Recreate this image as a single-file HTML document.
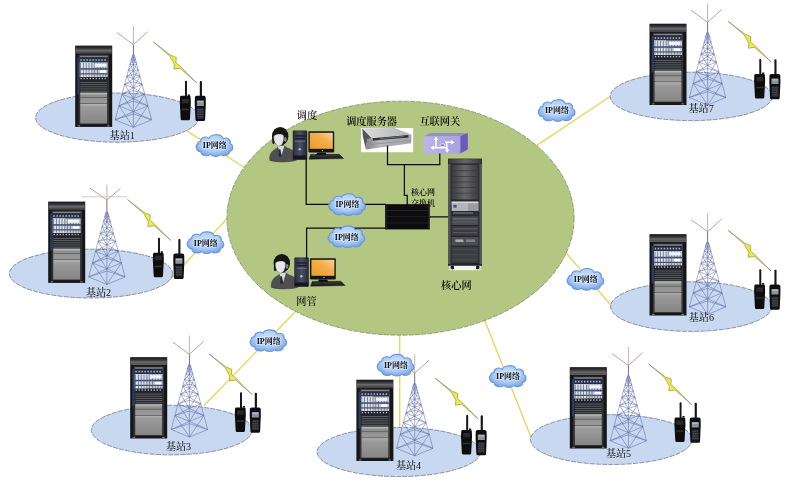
<!DOCTYPE html>
<html lang="zh"><head><meta charset="utf-8"><title>集群通信系统组网图</title>
<style>html,body{margin:0;padding:0;background:#fff;overflow:hidden}svg{display:block}</style></head><body>
<svg width="798" height="494" viewBox="0 0 798 494" font-family='"Liberation Serif","Noto Serif CJK SC",serif'>
<defs>
<filter id="soft" x="0" y="0" width="798" height="494" filterUnits="userSpaceOnUse"><feGaussianBlur stdDeviation="0.45"/></filter>
<linearGradient id="gHead" x1="0" y1="0" x2="0" y2="1"><stop offset="0" stop-color="#1c1c1e"/><stop offset=".35" stop-color="#3a3a3d"/><stop offset=".6" stop-color="#6a6a6e"/><stop offset=".9" stop-color="#4a4a4e"/><stop offset="1" stop-color="#88888c"/></linearGradient>
<linearGradient id="gBox" x1="0" y1="0" x2="0" y2="1"><stop offset="0" stop-color="#c9c9c9"/><stop offset=".25" stop-color="#8e8e8e"/><stop offset="1" stop-color="#9a9a9a"/></linearGradient>
<linearGradient id="gPanel" x1="0" y1="0" x2="0" y2="1"><stop offset="0" stop-color="#b4b4b4"/><stop offset=".15" stop-color="#9b9b9b"/><stop offset="1" stop-color="#858585"/></linearGradient>
<radialGradient id="gCloud" cx=".5" cy=".4" r=".65"><stop offset="0" stop-color="#d2e6fd"/><stop offset=".55" stop-color="#aecef6"/><stop offset="1" stop-color="#6f9ee2"/></radialGradient>
<linearGradient id="gScr" x1="0" y1="1" x2="1" y2="0"><stop offset="0" stop-color="#ee9a22"/><stop offset=".6" stop-color="#f3ae4c"/><stop offset="1" stop-color="#f8d4a0"/></linearGradient>
<linearGradient id="gPc" x1="0" y1="0" x2="1" y2="0"><stop offset="0" stop-color="#2c2f3e"/><stop offset=".5" stop-color="#4a4f66"/><stop offset="1" stop-color="#262836"/></linearGradient>
<linearGradient id="gCore" x1="0" y1="0" x2="1" y2="0"><stop offset="0" stop-color="#3a3a3d"/><stop offset=".5" stop-color="#66666a"/><stop offset="1" stop-color="#3a3a3d"/></linearGradient>
<linearGradient id="gGw" x1="0" y1="0" x2="1" y2="0"><stop offset="0" stop-color="#b9b4e9"/><stop offset="1" stop-color="#a9a2e0"/></linearGradient>
<linearGradient id="gSilver" x1="0" y1="0" x2="1" y2="0"><stop offset="0" stop-color="#dcdcde"/><stop offset="1" stop-color="#b2b2b6"/></linearGradient>
<linearGradient id="gSrvF" x1="0" y1="0" x2="1" y2="0"><stop offset="0" stop-color="#85868a"/><stop offset=".3" stop-color="#b4b5b9"/><stop offset="1" stop-color="#a2a3a7"/></linearGradient>

<g id="rack">
<rect x="0" y="0" width="37" height="81.3" fill="#161618"/>
<rect x="0.4" y="0.5" width="36.2" height="7.2" fill="url(#gHead)"/>
<rect x="3.4" y="8.4" width="30.2" height="70.6" fill="#202124"/>
<rect x="4.4" y="10.0" width="28.2" height="1.6" fill="#828284"/>
<rect x="4.4" y="12.8" width="28.2" height="3.6" fill="#2c3550"/>
<rect x="5.2" y="13.6" width="1.4" height="1.6" fill="#9db6dc"/>
<rect x="8.2" y="13.6" width="1.4" height="1.6" fill="#9db6dc"/>
<rect x="11.2" y="13.6" width="1.4" height="1.6" fill="#9db6dc"/>
<rect x="14.2" y="13.6" width="1.4" height="1.6" fill="#9db6dc"/>
<rect x="17.2" y="13.6" width="1.4" height="1.6" fill="#9db6dc"/>
<rect x="20.2" y="13.6" width="1.4" height="1.6" fill="#9db6dc"/>
<rect x="23.2" y="13.6" width="1.4" height="1.6" fill="#9db6dc"/>
<rect x="26.2" y="13.6" width="1.4" height="1.6" fill="#9db6dc"/>
<rect x="29.2" y="13.6" width="1.4" height="1.6" fill="#9db6dc"/>
<rect x="4.4" y="16.8" width="28.2" height="14.6" fill="#c2c7d2"/>
<rect x="4.4" y="16.8" width="12.5" height="14.6" fill="#d9dde6"/>
<rect x="5.0" y="17.2" width="0.8" height="13.8" fill="#6a7486"/>
<rect x="7.8" y="17.2" width="0.8" height="13.8" fill="#6a7486"/>
<rect x="10.6" y="17.2" width="0.8" height="13.8" fill="#6a7486"/>
<rect x="13.4" y="17.2" width="0.8" height="13.8" fill="#6a7486"/>
<rect x="16.2" y="17.2" width="0.8" height="13.8" fill="#6a7486"/>
<rect x="19.0" y="17.2" width="0.8" height="13.8" fill="#6a7486"/>
<rect x="21.8" y="17.2" width="0.8" height="13.8" fill="#6a7486"/>
<rect x="24.6" y="17.2" width="0.8" height="13.8" fill="#6a7486"/>
<rect x="27.4" y="17.2" width="0.8" height="13.8" fill="#6a7486"/>
<rect x="30.2" y="17.2" width="0.8" height="13.8" fill="#6a7486"/>
<rect x="4.4" y="22.6" width="28.2" height="1.5" fill="#3d4c80"/>
<rect x="19.5" y="18.0" width="11.6" height="3.2" fill="#f2f3f6"/>
<rect x="4.4" y="27.6" width="28.2" height="1.2" fill="#4a5268"/>
<rect x="24.5" y="24.6" width="6.6" height="2.6" fill="#ffffff"/>
<rect x="4.4" y="31.4" width="28.2" height="3.2" fill="#20232c"/>
<rect x="5.4" y="32.2" width="1.3" height="1.4" fill="#b9c1cf"/>
<rect x="8.4" y="32.2" width="1.3" height="1.4" fill="#b9c1cf"/>
<rect x="11.4" y="32.2" width="1.3" height="1.4" fill="#b9c1cf"/>
<rect x="14.4" y="32.2" width="1.3" height="1.4" fill="#b9c1cf"/>
<rect x="17.4" y="32.2" width="1.3" height="1.4" fill="#b9c1cf"/>
<rect x="20.4" y="32.2" width="1.3" height="1.4" fill="#b9c1cf"/>
<rect x="23.4" y="32.2" width="1.3" height="1.4" fill="#b9c1cf"/>
<rect x="26.4" y="32.2" width="1.3" height="1.4" fill="#b9c1cf"/>
<rect x="29.4" y="32.2" width="1.3" height="1.4" fill="#b9c1cf"/>
<rect x="4.4" y="34.6" width="28.2" height="12.4" fill="#26272b"/>
<rect x="5.2" y="36.4" width="26.6" height="0.8" fill="#686a70"/>
<rect x="5.2" y="38.6" width="26.6" height="0.8" fill="#686a70"/>
<rect x="5.2" y="40.8" width="26.6" height="0.8" fill="#686a70"/>
<rect x="5.2" y="43.0" width="26.6" height="0.8" fill="#686a70"/>
<rect x="5.2" y="45.2" width="26.6" height="0.8" fill="#686a70"/>
<rect x="5.0" y="47.0" width="27.0" height="11.0" fill="url(#gBox)"/>
<rect x="5.0" y="51.6" width="27.0" height="0.8" fill="#5c5c5c"/>
<rect x="5.0" y="58.4" width="27.0" height="19.6" fill="url(#gPanel)"/>
<rect x="3.4" y="9.6" width="1.0" height="69.4" fill="#3a3c44"/>
<rect x="32.6" y="9.6" width="1.0" height="69.4" fill="#3a3c44"/>
<rect x="2.1" y="12" width="1.5" height="37" fill="#3456a8" opacity=".6"/>
<rect x="2.5" y="79.6" width="2.5" height="1.2" fill="#777"/><rect x="32" y="79.6" width="2.5" height="1.2" fill="#777"/>
</g>
<g id="radio1" transform="scale(1.08 1.03)">
<rect x="5.0" y="-14.6" width="1.8" height="15.6" rx=".8" fill="#121214"/>
<path d="M0.4,1.4 Q0.4,0 1.8,0 L8.8,0 Q10.2,0 10.2,1.4 L10.4,7 L9.6,22.6 Q9.5,23.8 8.4,23.8 L2.2,23.8 Q1.1,23.8 1,22.6 L0.2,7 Z" fill="#0e0e10"/>
<rect x="2.2" y="3.0" width="6.2" height="4.2" fill="#2a2a2e"/>
<rect x="2.0" y="12.6" width="6.6" height="1.4" fill="#303034"/>
<rect x="7.6" y="-1.4" width="2.0" height="1.6" fill="#1c1c1e"/>
</g>
<g id="radio2" transform="scale(1.18 1.02)">
<rect x="4.5" y="-14.4" width="1.8" height="15.4" rx=".8" fill="#121214"/>
<path d="M0.3,1.6 Q0.3,0 1.9,0 L7.9,0 Q9.5,0 9.5,1.6 L9.6,8 L9.0,23.6 Q8.9,24.8 7.8,24.8 L2.0,24.8 Q0.9,24.8 0.8,23.6 L0.2,8 Z" fill="#111113"/>
<rect x="2.0" y="4.6" width="6.0" height="5.4" rx=".5" fill="#8f9296"/>
<rect x="2.6" y="5.2" width="4.8" height="1.2" fill="#b9bcc0"/>
<rect x="2.2" y="12.0" width="5.6" height="10.4" rx=".6" fill="#2b2c30"/>
<rect x="2.6" y="13.0" width="1.1" height="1.2" fill="#4c4e54"/>
<rect x="4.4" y="13.0" width="1.1" height="1.2" fill="#4c4e54"/>
<rect x="6.2" y="13.0" width="1.1" height="1.2" fill="#4c4e54"/>
<rect x="2.6" y="15.3" width="1.1" height="1.2" fill="#4c4e54"/>
<rect x="4.4" y="15.3" width="1.1" height="1.2" fill="#4c4e54"/>
<rect x="6.2" y="15.3" width="1.1" height="1.2" fill="#4c4e54"/>
<rect x="2.6" y="17.6" width="1.1" height="1.2" fill="#4c4e54"/>
<rect x="4.4" y="17.6" width="1.1" height="1.2" fill="#4c4e54"/>
<rect x="6.2" y="17.6" width="1.1" height="1.2" fill="#4c4e54"/>
<rect x="2.6" y="19.9" width="1.1" height="1.2" fill="#4c4e54"/>
<rect x="4.4" y="19.9" width="1.1" height="1.2" fill="#4c4e54"/>
<rect x="6.2" y="19.9" width="1.1" height="1.2" fill="#4c4e54"/>
</g>
<g id="cloud">
<path d="M-13.6,-3.6 C-13.8,-8.2 -7.6,-9.6 -5.2,-7.0 C-3.4,-11.6 6.8,-12.2 9.0,-6.6 C12.6,-8.6 17.2,-5.6 15.8,-1.8 C19.6,-0.6 19.4,5.4 15.2,6.0 C15.6,9.8 9.6,11.6 6.6,9.2 C4.2,11.8 -1.8,11.6 -3.6,9.0 C-6.6,11.6 -13.4,10.4 -13.4,6.4 C-17.8,6.2 -19.6,0.6 -16.4,-1.6 C-16.8,-3.0 -15.2,-4.2 -13.6,-3.6 Z" fill="url(#gCloud)" stroke="#6b97d9" stroke-width="1.1" stroke-linejoin="round"/>
</g>
<g id="bolt">
<path d="M0,0 L17.0,13.0 L22.8,15.4 L22.4,20.6 L27.6,25.0 L43.2,40.8 L26.6,26.2 L20.4,27.0 L20.8,22.0 L16.2,13.8 Z" fill="#f2ee2e" stroke="#7c7c74" stroke-width=".6" stroke-linejoin="round"/>
</g>
<g id="desk">
<path d="M-23.2,29.6 C-24.0,22.8 -20.6,19.6 -16.4,17.6 L-13.6,14.6 L-9.4,14.6 L-5.6,17.2 C0.6,19.0 3.8,22.6 3.4,29.4 C-2,31.4 -16,31.8 -23.2,29.6 Z" fill="#4f5053" stroke="#38383a" stroke-width=".5"/>
<path d="M-15.6,15.2 L-11.4,24.4 L-8.6,15.0 Z" fill="#dcdcde"/>
<path d="M-14.0,18.6 L-12.6,18.4 L-11.6,24.6 L-12.8,26.8 L-14.4,24.6 Z" fill="#252527"/>
<ellipse cx="-12.8" cy="5.4" rx="8.2" ry="9.3" fill="#131313"/>
<path d="M-20.4,6 C-21.6,13.6 -19.6,15.4 -17.6,11 Z" fill="#131313"/>
<ellipse cx="-7.6" cy="8.6" rx="1.4" ry="2.3" fill="#85868a"/>
<path d="M-19.2,5.6 C-18.8,2.8 -10.4,2.2 -9.2,5.2 C-8.8,9.8 -10.4,14.8 -14.0,15.4 C-17.6,14.8 -19.6,10.0 -19.2,5.6 Z" fill="#e6e6e9" stroke="#4a4b4f" stroke-width=".4"/>
<rect x="0" y="0" width="14" height="28.6" rx=".6" fill="url(#gPc)" stroke="#191a22" stroke-width=".5"/>
<rect x="2.0" y="4.4" width="10" height="1.4" fill="#1d1e28"/><rect x="2.0" y="7.2" width="10" height="1.4" fill="#1d1e28"/><rect x="2.0" y="10.0" width="10" height="1.0" fill="#6d7288"/>
<circle cx="6.8" cy="18.4" r="1.7" fill="#b4b8c6" stroke="#1d1e28" stroke-width=".5"/>
<rect x="0.3" y="24.6" width="13.4" height="4" fill="#181922"/>
<rect x="15.4" y="0.4" width="25.8" height="21.2" rx=".8" fill="#151517"/>
<rect x="16.8" y="2.0" width="23.0" height="16.0" fill="url(#gScr)"/>
<circle cx="29.4" cy="19.9" r=".6" fill="#d8d8d8"/>
<path d="M24.4,21.6 L32.6,21.6 L33.6,24.2 L23.0,24.2 Z" fill="#0e0e10"/>
<path d="M17.6,23.6 L46.2,23.4 L50.6,27.8 L16.0,28.4 Z" fill="#1d1d21" stroke="#0a0a0c" stroke-width=".4"/>
<path d="M18.6,24.8 L46.0,24.6 M18.0,26.2 L47.6,26.0" stroke="#46464c" stroke-width=".5"/>
</g>
</defs>
<rect width="798" height="494" fill="#ffffff"/>
<g filter="url(#soft)">
<g stroke="#ebd458" stroke-width="1.35" stroke-linecap="butt" fill="none">
<line x1="186.0" y1="130.4" x2="246.0" y2="168.5"/>
<line x1="170.5" y1="279.2" x2="229.5" y2="216.0"/>
<line x1="204.0" y1="405.5" x2="298.0" y2="309.0"/>
<line x1="399.7" y1="330.0" x2="399.7" y2="428.0"/>
<line x1="481.0" y1="311.0" x2="531.3" y2="438.0"/>
<line x1="564.0" y1="250.5" x2="610.8" y2="305.0"/>
<line x1="535.0" y1="146.6" x2="610.5" y2="96.3"/>
</g>
<ellipse cx="400.5" cy="218.2" rx="173.6" ry="117.0" fill="#b4c782" stroke="#6d7f58" stroke-width=".7" stroke-dasharray="5 1.2"/>
<ellipse cx="117.2" cy="117.6" rx="81.6" ry="24.6" fill="#c8d8f0" stroke="#5d6b80" stroke-width=".7" stroke-dasharray="5 1.2"/>
<ellipse cx="91.0" cy="273.6" rx="81.6" ry="24.4" fill="#c8d8f0" stroke="#5d6b80" stroke-width=".7" stroke-dasharray="5 1.2"/>
<ellipse cx="171.7" cy="430.1" rx="80.4" ry="24.8" fill="#c8d8f0" stroke="#5d6b80" stroke-width=".7" stroke-dasharray="5 1.2"/>
<ellipse cx="398.7" cy="452.0" rx="81.6" ry="24.5" fill="#c8d8f0" stroke="#5d6b80" stroke-width=".7" stroke-dasharray="5 1.2"/>
<ellipse cx="611.3" cy="439.6" rx="80.8" ry="24.9" fill="#c8d8f0" stroke="#5d6b80" stroke-width=".7" stroke-dasharray="5 1.2"/>
<ellipse cx="691.2" cy="306.6" rx="80.6" ry="24.8" fill="#c8d8f0" stroke="#5d6b80" stroke-width=".7" stroke-dasharray="5 1.2"/>
<ellipse cx="691.2" cy="96.4" rx="81.0" ry="24.2" fill="#c8d8f0" stroke="#5d6b80" stroke-width=".7" stroke-dasharray="5 1.2"/>
<use href="#rack" x="75.2" y="45.6"/>
<line x1="133.4" y1="25.9" x2="133.4" y2="44.6" stroke="#c48e96" stroke-width=".75"/><line x1="133.4" y1="44.6" x2="133.4" y2="55.4" stroke="#77707a" stroke-width="1.0"/><line x1="133.4" y1="44.6" x2="116.9" y2="32.6" stroke="#b48484" stroke-width=".8"/><line x1="133.4" y1="44.6" x2="147.7" y2="31.7" stroke="#ac8a84" stroke-width=".8"/><path d="M132.40,55.40L115.20,119.80M134.40,55.40L151.60,119.80M133.40,55.40L133.40,127.37M132.40,55.40L133.40,55.40L134.40,55.40M132.40,55.40L133.40,59.76L134.40,55.40M131.36,59.30L133.40,55.40L135.44,59.30M131.36,59.30L133.40,59.76L135.44,59.30M131.36,59.30L133.40,65.00L135.44,59.30M130.11,63.99L133.40,59.76L136.69,63.99M130.11,63.99L133.40,65.00L136.69,63.99M130.11,63.99L133.40,71.28L136.69,63.99M128.61,69.61L133.40,65.00L138.19,69.61M128.61,69.61L133.40,71.28L138.19,69.61M128.61,69.61L133.40,78.81L138.19,69.61M126.80,76.35L133.40,71.28L140.00,76.35M126.80,76.35L133.40,78.81L140.00,76.35M126.80,76.35L133.40,74.45L140.00,76.35M126.80,76.35L133.40,87.86L140.00,76.35M124.64,84.45L133.40,78.81L142.16,84.45M124.64,84.45L133.40,87.86L142.16,84.45M124.64,84.45L133.40,81.81L142.16,84.45M124.64,84.45L133.40,98.71L142.16,84.45M122.05,94.16L133.40,87.86L144.75,94.16M122.05,94.16L133.40,98.71L144.75,94.16M122.05,94.16L133.40,90.64L144.75,94.16M122.05,94.16L133.40,111.74L144.75,94.16M118.94,105.81L133.40,98.71L147.86,105.81M118.94,105.81L133.40,111.74L147.86,105.81M118.94,105.81L133.40,101.24L147.86,105.81M118.94,105.81L133.40,127.37L147.86,105.81M115.20,119.80L133.40,111.74L151.60,119.80M115.20,119.80L133.40,127.37L151.60,119.80M115.20,119.80L133.40,113.95L151.60,119.80" fill="none" stroke="#56629f" stroke-width=".5" stroke-linejoin="round"/><rect x="132.1" y="54.4" width="2.6" height="8.5" fill="#8896d4" opacity=".55"/>
<use href="#bolt" x="153.5" y="42.1"/>
<use href="#radio1" x="179.6" y="95.8"/>
<use href="#radio2" x="194.5" y="95.8"/>
<text x="122.2" y="138.6" font-size="10.1" font-weight="500" text-anchor="middle" fill="#151515">基站1</text>
<use href="#rack" x="48.2" y="201.6"/>
<line x1="106.9" y1="184.5" x2="106.9" y2="200.1" stroke="#c48e96" stroke-width=".75"/><line x1="106.9" y1="200.1" x2="106.9" y2="212.5" stroke="#77707a" stroke-width="1.0"/><line x1="81.5" y1="196.8" x2="127.4" y2="196.8" stroke="#c9b4b4" stroke-width=".7"/><line x1="106.9" y1="200.1" x2="90.0" y2="188.1" stroke="#b48484" stroke-width=".8"/><line x1="106.9" y1="200.1" x2="120.3" y2="188.5" stroke="#ac8a84" stroke-width=".8"/><path d="M105.90,212.50L88.70,276.90M107.90,212.50L125.10,276.90M106.90,212.50L106.90,284.47M105.90,212.50L106.90,212.50L107.90,212.50M105.90,212.50L106.90,216.86L107.90,212.50M104.86,216.40L106.90,212.50L108.94,216.40M104.86,216.40L106.90,216.86L108.94,216.40M104.86,216.40L106.90,222.10L108.94,216.40M103.61,221.09L106.90,216.86L110.19,221.09M103.61,221.09L106.90,222.10L110.19,221.09M103.61,221.09L106.90,228.38L110.19,221.09M102.11,226.71L106.90,222.10L111.69,226.71M102.11,226.71L106.90,228.38L111.69,226.71M102.11,226.71L106.90,235.91L111.69,226.71M100.30,233.45L106.90,228.38L113.50,233.45M100.30,233.45L106.90,235.91L113.50,233.45M100.30,233.45L106.90,231.55L113.50,233.45M100.30,233.45L106.90,244.96L113.50,233.45M98.14,241.55L106.90,235.91L115.66,241.55M98.14,241.55L106.90,244.96L115.66,241.55M98.14,241.55L106.90,238.91L115.66,241.55M98.14,241.55L106.90,255.81L115.66,241.55M95.55,251.26L106.90,244.96L118.25,251.26M95.55,251.26L106.90,255.81L118.25,251.26M95.55,251.26L106.90,247.74L118.25,251.26M95.55,251.26L106.90,268.84L118.25,251.26M92.44,262.91L106.90,255.81L121.36,262.91M92.44,262.91L106.90,268.84L121.36,262.91M92.44,262.91L106.90,258.34L121.36,262.91M92.44,262.91L106.90,284.47L121.36,262.91M88.70,276.90L106.90,268.84L125.10,276.90M88.70,276.90L106.90,284.47L125.10,276.90M88.70,276.90L106.90,271.05L125.10,276.90" fill="none" stroke="#56629f" stroke-width=".5" stroke-linejoin="round"/><rect x="105.6" y="211.5" width="2.6" height="8.5" fill="#8896d4" opacity=".55"/>
<use href="#bolt" x="127.5" y="199.6"/>
<use href="#radio1" x="152.6" y="252.7"/>
<use href="#radio2" x="173.0" y="253.6"/>
<text x="98.5" y="296.2" font-size="10.1" font-weight="500" text-anchor="middle" fill="#151515">基站2</text>
<use href="#rack" x="130.2" y="357.2"/>
<line x1="189.4" y1="335.6" x2="189.4" y2="354.3" stroke="#c48e96" stroke-width=".75"/><line x1="189.4" y1="354.3" x2="189.4" y2="365.1" stroke="#77707a" stroke-width="1.0"/><line x1="189.4" y1="354.3" x2="172.9" y2="342.3" stroke="#b48484" stroke-width=".8"/><line x1="189.4" y1="354.3" x2="203.7" y2="341.4" stroke="#ac8a84" stroke-width=".8"/><path d="M188.40,365.10L171.20,429.50M190.40,365.10L207.60,429.50M189.40,365.10L189.40,437.07M188.40,365.10L189.40,365.10L190.40,365.10M188.40,365.10L189.40,369.46L190.40,365.10M187.36,369.00L189.40,365.10L191.44,369.00M187.36,369.00L189.40,369.46L191.44,369.00M187.36,369.00L189.40,374.70L191.44,369.00M186.11,373.69L189.40,369.46L192.69,373.69M186.11,373.69L189.40,374.70L192.69,373.69M186.11,373.69L189.40,380.98L192.69,373.69M184.61,379.31L189.40,374.70L194.19,379.31M184.61,379.31L189.40,380.98L194.19,379.31M184.61,379.31L189.40,388.51L194.19,379.31M182.80,386.05L189.40,380.98L196.00,386.05M182.80,386.05L189.40,388.51L196.00,386.05M182.80,386.05L189.40,384.15L196.00,386.05M182.80,386.05L189.40,397.56L196.00,386.05M180.64,394.15L189.40,388.51L198.16,394.15M180.64,394.15L189.40,397.56L198.16,394.15M180.64,394.15L189.40,391.51L198.16,394.15M180.64,394.15L189.40,408.41L198.16,394.15M178.05,403.86L189.40,397.56L200.75,403.86M178.05,403.86L189.40,408.41L200.75,403.86M178.05,403.86L189.40,400.34L200.75,403.86M178.05,403.86L189.40,421.44L200.75,403.86M174.94,415.51L189.40,408.41L203.86,415.51M174.94,415.51L189.40,421.44L203.86,415.51M174.94,415.51L189.40,410.94L203.86,415.51M174.94,415.51L189.40,437.07L203.86,415.51M171.20,429.50L189.40,421.44L207.60,429.50M171.20,429.50L189.40,437.07L207.60,429.50M171.20,429.50L189.40,423.65L207.60,429.50" fill="none" stroke="#56629f" stroke-width=".5" stroke-linejoin="round"/><rect x="188.1" y="364.1" width="2.6" height="8.5" fill="#8896d4" opacity=".55"/>
<use href="#bolt" x="209.0" y="353.9"/>
<use href="#radio1" x="234.6" y="407.4"/>
<use href="#radio2" x="249.5" y="407.4"/>
<text x="178.5" y="449.6" font-size="10.1" font-weight="500" text-anchor="middle" fill="#151515">基站3</text>
<use href="#rack" x="356.4" y="379.7"/>
<line x1="414.7" y1="354.4" x2="414.7" y2="373.1" stroke="#c48e96" stroke-width=".75"/><line x1="414.7" y1="373.1" x2="414.7" y2="383.9" stroke="#77707a" stroke-width="1.0"/><line x1="414.7" y1="373.1" x2="398.2" y2="361.1" stroke="#b48484" stroke-width=".8"/><line x1="414.7" y1="373.1" x2="429.0" y2="360.2" stroke="#ac8a84" stroke-width=".8"/><path d="M413.70,383.90L396.50,448.30M415.70,383.90L432.90,448.30M414.70,383.90L414.70,455.87M413.70,383.90L414.70,383.90L415.70,383.90M413.70,383.90L414.70,388.26L415.70,383.90M412.66,387.80L414.70,383.90L416.74,387.80M412.66,387.80L414.70,388.26L416.74,387.80M412.66,387.80L414.70,393.50L416.74,387.80M411.41,392.49L414.70,388.26L417.99,392.49M411.41,392.49L414.70,393.50L417.99,392.49M411.41,392.49L414.70,399.78L417.99,392.49M409.91,398.11L414.70,393.50L419.49,398.11M409.91,398.11L414.70,399.78L419.49,398.11M409.91,398.11L414.70,407.31L419.49,398.11M408.10,404.85L414.70,399.78L421.30,404.85M408.10,404.85L414.70,407.31L421.30,404.85M408.10,404.85L414.70,402.95L421.30,404.85M408.10,404.85L414.70,416.36L421.30,404.85M405.94,412.95L414.70,407.31L423.46,412.95M405.94,412.95L414.70,416.36L423.46,412.95M405.94,412.95L414.70,410.31L423.46,412.95M405.94,412.95L414.70,427.21L423.46,412.95M403.35,422.66L414.70,416.36L426.05,422.66M403.35,422.66L414.70,427.21L426.05,422.66M403.35,422.66L414.70,419.14L426.05,422.66M403.35,422.66L414.70,440.24L426.05,422.66M400.24,434.31L414.70,427.21L429.16,434.31M400.24,434.31L414.70,440.24L429.16,434.31M400.24,434.31L414.70,429.74L429.16,434.31M400.24,434.31L414.70,455.87L429.16,434.31M396.50,448.30L414.70,440.24L432.90,448.30M396.50,448.30L414.70,455.87L432.90,448.30M396.50,448.30L414.70,442.45L432.90,448.30" fill="none" stroke="#56629f" stroke-width=".5" stroke-linejoin="round"/><rect x="413.4" y="382.9" width="2.6" height="8.5" fill="#8896d4" opacity=".55"/>
<use href="#bolt" x="435.0" y="378.1"/>
<use href="#radio1" x="460.8" y="429.9"/>
<use href="#radio2" x="475.4" y="429.9"/>
<text x="408.5" y="469.0" font-size="10.1" font-weight="500" text-anchor="middle" fill="#151515">基站4</text>
<use href="#rack" x="569.8" y="367.2"/>
<line x1="628.4" y1="346.8" x2="628.4" y2="365.5" stroke="#c48e96" stroke-width=".75"/><line x1="628.4" y1="365.5" x2="628.4" y2="376.3" stroke="#77707a" stroke-width="1.0"/><line x1="628.4" y1="365.5" x2="611.9" y2="353.5" stroke="#b48484" stroke-width=".8"/><line x1="628.4" y1="365.5" x2="642.7" y2="352.6" stroke="#ac8a84" stroke-width=".8"/><path d="M627.40,376.30L610.20,440.70M629.40,376.30L646.60,440.70M628.40,376.30L628.40,448.27M627.40,376.30L628.40,376.30L629.40,376.30M627.40,376.30L628.40,380.66L629.40,376.30M626.36,380.20L628.40,376.30L630.44,380.20M626.36,380.20L628.40,380.66L630.44,380.20M626.36,380.20L628.40,385.90L630.44,380.20M625.11,384.89L628.40,380.66L631.69,384.89M625.11,384.89L628.40,385.90L631.69,384.89M625.11,384.89L628.40,392.18L631.69,384.89M623.61,390.51L628.40,385.90L633.19,390.51M623.61,390.51L628.40,392.18L633.19,390.51M623.61,390.51L628.40,399.71L633.19,390.51M621.80,397.25L628.40,392.18L635.00,397.25M621.80,397.25L628.40,399.71L635.00,397.25M621.80,397.25L628.40,395.35L635.00,397.25M621.80,397.25L628.40,408.76L635.00,397.25M619.64,405.35L628.40,399.71L637.16,405.35M619.64,405.35L628.40,408.76L637.16,405.35M619.64,405.35L628.40,402.71L637.16,405.35M619.64,405.35L628.40,419.61L637.16,405.35M617.05,415.06L628.40,408.76L639.75,415.06M617.05,415.06L628.40,419.61L639.75,415.06M617.05,415.06L628.40,411.54L639.75,415.06M617.05,415.06L628.40,432.64L639.75,415.06M613.94,426.71L628.40,419.61L642.86,426.71M613.94,426.71L628.40,432.64L642.86,426.71M613.94,426.71L628.40,422.14L642.86,426.71M613.94,426.71L628.40,448.27L642.86,426.71M610.20,440.70L628.40,432.64L646.60,440.70M610.20,440.70L628.40,448.27L646.60,440.70M610.20,440.70L628.40,434.85L646.60,440.70" fill="none" stroke="#56629f" stroke-width=".5" stroke-linejoin="round"/><rect x="627.1" y="375.3" width="2.6" height="8.5" fill="#8896d4" opacity=".55"/>
<use href="#bolt" x="648.5" y="363.9"/>
<use href="#radio1" x="674.2" y="417.4"/>
<use href="#radio2" x="689.4" y="417.4"/>
<text x="618.5" y="457.1" font-size="10.1" font-weight="500" text-anchor="middle" fill="#151515">基站5</text>
<use href="#rack" x="649.5" y="234.2"/>
<line x1="707.6" y1="213.0" x2="707.6" y2="231.7" stroke="#c48e96" stroke-width=".75"/><line x1="707.6" y1="231.7" x2="707.6" y2="242.5" stroke="#77707a" stroke-width="1.0"/><line x1="707.6" y1="231.7" x2="691.1" y2="219.7" stroke="#b48484" stroke-width=".8"/><line x1="707.6" y1="231.7" x2="721.9" y2="218.8" stroke="#ac8a84" stroke-width=".8"/><path d="M706.60,242.50L689.40,306.90M708.60,242.50L725.80,306.90M707.60,242.50L707.60,314.47M706.60,242.50L707.60,242.50L708.60,242.50M706.60,242.50L707.60,246.86L708.60,242.50M705.56,246.40L707.60,242.50L709.64,246.40M705.56,246.40L707.60,246.86L709.64,246.40M705.56,246.40L707.60,252.10L709.64,246.40M704.31,251.09L707.60,246.86L710.89,251.09M704.31,251.09L707.60,252.10L710.89,251.09M704.31,251.09L707.60,258.38L710.89,251.09M702.81,256.71L707.60,252.10L712.39,256.71M702.81,256.71L707.60,258.38L712.39,256.71M702.81,256.71L707.60,265.91L712.39,256.71M701.00,263.45L707.60,258.38L714.20,263.45M701.00,263.45L707.60,265.91L714.20,263.45M701.00,263.45L707.60,261.55L714.20,263.45M701.00,263.45L707.60,274.96L714.20,263.45M698.84,271.55L707.60,265.91L716.36,271.55M698.84,271.55L707.60,274.96L716.36,271.55M698.84,271.55L707.60,268.91L716.36,271.55M698.84,271.55L707.60,285.81L716.36,271.55M696.25,281.26L707.60,274.96L718.95,281.26M696.25,281.26L707.60,285.81L718.95,281.26M696.25,281.26L707.60,277.74L718.95,281.26M696.25,281.26L707.60,298.84L718.95,281.26M693.14,292.91L707.60,285.81L722.06,292.91M693.14,292.91L707.60,298.84L722.06,292.91M693.14,292.91L707.60,288.34L722.06,292.91M693.14,292.91L707.60,314.47L722.06,292.91M689.40,306.90L707.60,298.84L725.80,306.90M689.40,306.90L707.60,314.47L725.80,306.90M689.40,306.90L707.60,301.05L725.80,306.90" fill="none" stroke="#56629f" stroke-width=".5" stroke-linejoin="round"/><rect x="706.3" y="241.5" width="2.6" height="8.5" fill="#8896d4" opacity=".55"/>
<use href="#bolt" x="728.0" y="230.3"/>
<use href="#radio1" x="753.9" y="284.4"/>
<use href="#radio2" x="769.1" y="284.4"/>
<text x="701.4" y="320.6" font-size="10.1" font-weight="500" text-anchor="middle" fill="#151515">基站6</text>
<use href="#rack" x="649.5" y="23.7"/>
<line x1="707.6" y1="3.6" x2="707.6" y2="22.3" stroke="#c48e96" stroke-width=".75"/><line x1="707.6" y1="22.3" x2="707.6" y2="33.1" stroke="#77707a" stroke-width="1.0"/><line x1="707.6" y1="22.3" x2="691.1" y2="10.3" stroke="#b48484" stroke-width=".8"/><line x1="707.6" y1="22.3" x2="721.9" y2="9.4" stroke="#ac8a84" stroke-width=".8"/><path d="M706.60,33.10L689.40,97.50M708.60,33.10L725.80,97.50M707.60,33.10L707.60,105.07M706.60,33.10L707.60,33.10L708.60,33.10M706.60,33.10L707.60,37.46L708.60,33.10M705.56,37.00L707.60,33.10L709.64,37.00M705.56,37.00L707.60,37.46L709.64,37.00M705.56,37.00L707.60,42.70L709.64,37.00M704.31,41.69L707.60,37.46L710.89,41.69M704.31,41.69L707.60,42.70L710.89,41.69M704.31,41.69L707.60,48.98L710.89,41.69M702.81,47.31L707.60,42.70L712.39,47.31M702.81,47.31L707.60,48.98L712.39,47.31M702.81,47.31L707.60,56.51L712.39,47.31M701.00,54.05L707.60,48.98L714.20,54.05M701.00,54.05L707.60,56.51L714.20,54.05M701.00,54.05L707.60,52.15L714.20,54.05M701.00,54.05L707.60,65.56L714.20,54.05M698.84,62.15L707.60,56.51L716.36,62.15M698.84,62.15L707.60,65.56L716.36,62.15M698.84,62.15L707.60,59.51L716.36,62.15M698.84,62.15L707.60,76.41L716.36,62.15M696.25,71.86L707.60,65.56L718.95,71.86M696.25,71.86L707.60,76.41L718.95,71.86M696.25,71.86L707.60,68.34L718.95,71.86M696.25,71.86L707.60,89.44L718.95,71.86M693.14,83.51L707.60,76.41L722.06,83.51M693.14,83.51L707.60,89.44L722.06,83.51M693.14,83.51L707.60,78.94L722.06,83.51M693.14,83.51L707.60,105.07L722.06,83.51M689.40,97.50L707.60,89.44L725.80,97.50M689.40,97.50L707.60,105.07L725.80,97.50M689.40,97.50L707.60,91.65L725.80,97.50" fill="none" stroke="#56629f" stroke-width=".5" stroke-linejoin="round"/><rect x="706.3" y="32.1" width="2.6" height="8.5" fill="#8896d4" opacity=".55"/>
<use href="#bolt" x="728.0" y="21.2"/>
<use href="#radio1" x="753.9" y="73.9"/>
<use href="#radio2" x="769.1" y="73.9"/>
<text x="701.1" y="111.5" font-size="10.1" font-weight="500" text-anchor="middle" fill="#151515">基站7</text>
<use href="#desk" x="293.0" y="130.8"/>
<use href="#desk" x="294.6" y="257.8"/>
<rect x="361" y="128.1" width="52.2" height="24.1" fill="#ffffff"/>
<polygon points="362.3,128.5 394.5,128.1 411.4,134.4 371.7,138.2" fill="url(#gSilver)"/>
<polygon points="362.3,128.5 371.7,138.2 367.2,139.3 366.0,149.4 362.8,136.2" fill="#55565a"/>
<polygon points="367.2,139.3 371.7,138.2 411.4,134.4 411.2,143.2 366.0,149.4" fill="url(#gSrvF)"/>
<polygon points="372.5,138.2 408.3,135.0 408.5,137.5 373.1,140.6" fill="#2d2e33"/>
<polygon points="379.4,138.3 403.9,136.1 403.9,136.9 379.5,139.2" fill="#6c6e76"/>
<polygon points="367.2,144.4 411.2,140.0 411.2,140.6 367.1,145.2" fill="#8a8b90"/>
<polygon points="423.8,136.3 430.4,133.0 467.8,133.0 460.2,136.3" fill="#958cd6"/>
<polygon points="460.2,136.3 467.8,133.0 467.8,149.6 460.2,153.5" fill="#6a5abf"/>
<rect x="423.8" y="136.3" width="36.4" height="17.2" fill="url(#gGw)"/>
<g stroke="#ffffff" stroke-width="1.5" fill="#ffffff" stroke-linecap="butt">
<path d="M436.0,147.4 V139.6 M433.6,147.8 H446.6 M445.0,142.3 H451.4 M446.6,142.3 L447.0,149.8" fill="none"/>
<path d="M436.0,136.4 l-2.3,3.6 h4.6z M430.4,147.8 l3.6,-2.3 v4.6z M454.6,142.3 l-3.6,-2.3 v4.6z M447.2,152.8 l-2.4,-3.4 h4.6z" stroke="none"/>
</g>
<ellipse cx="442.4" cy="145.2" rx="2.5" ry="1.4" fill="#7a7ec4" stroke="#ffffff" stroke-width=".7"/>
<g fill="none" stroke="#0b0b0b" stroke-width="1.25" stroke-linejoin="miter">
<path d="M387.5,145.4 V164.6 H439.8 V153.5"/>
<path d="M404.4,164.6 V195.4 H407.2 V205"/>
<path d="M306.2,159 V204.4 H386"/>
<path d="M306.6,259 V228.2 H386"/>
<path d="M429,216.9 H449"/>
</g>
<g fill="#050505" font-size="10.2" text-anchor="middle" font-weight="500">
<text x="307" y="119.2">调度</text>
<text x="371.6" y="124.8" font-weight="600">调度服务器</text>
<text x="439.8" y="125.2" font-weight="600">互联网关</text>
<text x="306.5" y="304.8">网管</text>
<text x="456.4" y="288.8" font-weight="600">核心网</text>
</g>
<g fill="#050505" font-size="8.0" text-anchor="middle" font-weight="600"><text x="423" y="195.4">核心网</text><text x="423" y="205.6">交换机</text></g>
<rect x="385.2" y="204.2" width="44.4" height="25.2" fill="#0a0a0b"/>
<rect x="387" y="210.2" width="40.8" height=".7" fill="#2e2e32"/><rect x="387" y="216.4" width="40.8" height=".7" fill="#2e2e32"/><rect x="387" y="222.6" width="40.8" height=".7" fill="#2e2e32"/>
<rect x="385.2" y="204.2" width="1.6" height="25.2" fill="#222226"/><rect x="428" y="204.2" width="1.6" height="25.2" fill="#222226"/>
<g>
<rect x="449.4" y="264.6" width="31.2" height="5.6" fill="#f4f4f4"/>
<rect x="448" y="158.6" width="34" height="107.2" fill="#28282a"/>
<rect x="448.6" y="159.2" width="32.8" height="4.2" fill="url(#gCore)"/>
<rect x="451.4" y="164.8" width="27.2" height="34.6" fill="url(#gCore)"/>
<rect x="451.4" y="170.4" width="27.2" height=".7" fill="#37373b"/>
<rect x="451.4" y="176.0" width="27.2" height=".7" fill="#37373b"/>
<rect x="451.4" y="181.6" width="27.2" height=".7" fill="#37373b"/>
<rect x="451.4" y="187.2" width="27.2" height=".7" fill="#37373b"/>
<rect x="451.4" y="192.8" width="27.2" height=".7" fill="#37373b"/>
<rect x="451.6" y="201.6" width="26.8" height="9.4" fill="#b2b4b8"/>
<rect x="451.6" y="201.6" width="26.8" height="1.6" fill="#d0d1d4"/><rect x="468" y="203.6" width="10.4" height="7.4" fill="#9a9ca0"/>
<rect x="453.4" y="204.8" width="3.2" height="2.8" fill="#3c4a9a"/>
<rect x="451.6" y="211.6" width="26.8" height="3.6" fill="#2e3038"/>
<rect x="453" y="212.4" width="20" height="1.2" fill="#6f7896"/>
<rect x="451.6" y="216.4" width="26.8" height="8.6" fill="#4a4b50"/>
<rect x="453" y="218.2" width="24" height="1.2" fill="#6e7076"/><rect x="453" y="221.4" width="24" height="1.2" fill="#5c5e64"/>
<rect x="451.6" y="226.2" width="26.8" height="9.6" fill="#3a3b40"/>
<rect x="453" y="228.2" width="24" height="1.2" fill="#5c5e64"/><rect x="453" y="232.0" width="24" height="1.2" fill="#55575d"/>
<rect x="451.6" y="237.0" width="26.8" height="8.6" fill="#4c4d52"/>
<rect x="455.4" y="239.4" width="8" height="2.6" fill="#a9abb0"/><rect x="466" y="239.4" width="9" height="2.6" fill="#7e8086"/>
<rect x="451.6" y="246.8" width="26.8" height="16" fill="#3b3c40"/>
<rect x="453" y="249.2" width="24" height="1" fill="#4c4e54"/><rect x="453" y="254.2" width="24" height="1" fill="#4c4e54"/><rect x="453" y="259.2" width="24" height="1" fill="#4c4e54"/>
<rect x="448" y="164" width="2.6" height="100" fill="#55555a"/><rect x="479.4" y="164" width="2.6" height="100" fill="#55555a"/>
<rect x="450.6" y="265.8" width="3.4" height="3.4" rx="1" fill="#1a1a1c"/><rect x="476" y="265.8" width="3.4" height="3.4" rx="1" fill="#1a1a1c"/>
</g>
<use href="#cloud" x="214.2" y="145.3"/>
<text x="214.8" y="148.3" font-size="8.0" font-weight="700" text-anchor="middle" fill="#0a0d14" stroke="#e9f3ff" stroke-width="1.6" stroke-opacity=".55" paint-order="stroke">IP网络</text>
<use href="#cloud" x="205.2" y="242.5"/>
<text x="205.8" y="245.5" font-size="8.0" font-weight="700" text-anchor="middle" fill="#0a0d14" stroke="#e9f3ff" stroke-width="1.6" stroke-opacity=".55" paint-order="stroke">IP网络</text>
<use href="#cloud" x="268.1" y="340.5"/>
<text x="268.7" y="343.5" font-size="8.0" font-weight="700" text-anchor="middle" fill="#0a0d14" stroke="#e9f3ff" stroke-width="1.6" stroke-opacity=".55" paint-order="stroke">IP网络</text>
<use href="#cloud" x="395.3" y="365.0"/>
<text x="395.9" y="368.0" font-size="8.0" font-weight="700" text-anchor="middle" fill="#0a0d14" stroke="#e9f3ff" stroke-width="1.6" stroke-opacity=".55" paint-order="stroke">IP网络</text>
<use href="#cloud" x="507.5" y="376.3"/>
<text x="508.1" y="379.3" font-size="8.0" font-weight="700" text-anchor="middle" fill="#0a0d14" stroke="#e9f3ff" stroke-width="1.6" stroke-opacity=".55" paint-order="stroke">IP网络</text>
<use href="#cloud" x="585.2" y="279.1"/>
<text x="585.8" y="282.1" font-size="8.0" font-weight="700" text-anchor="middle" fill="#0a0d14" stroke="#e9f3ff" stroke-width="1.6" stroke-opacity=".55" paint-order="stroke">IP网络</text>
<use href="#cloud" x="556.4" y="110.3"/>
<text x="557.0" y="113.3" font-size="8.0" font-weight="700" text-anchor="middle" fill="#0a0d14" stroke="#e9f3ff" stroke-width="1.6" stroke-opacity=".55" paint-order="stroke">IP网络</text>
<use href="#cloud" x="346.8" y="204.4"/>
<text x="347.4" y="207.4" font-size="8.0" font-weight="700" text-anchor="middle" fill="#0a0d14" stroke="#e9f3ff" stroke-width="1.6" stroke-opacity=".55" paint-order="stroke">IP网络</text>
<use href="#cloud" x="346.2" y="236.5"/>
<text x="346.8" y="239.5" font-size="8.0" font-weight="700" text-anchor="middle" fill="#0a0d14" stroke="#e9f3ff" stroke-width="1.6" stroke-opacity=".55" paint-order="stroke">IP网络</text>
</g>
</svg></body></html>
